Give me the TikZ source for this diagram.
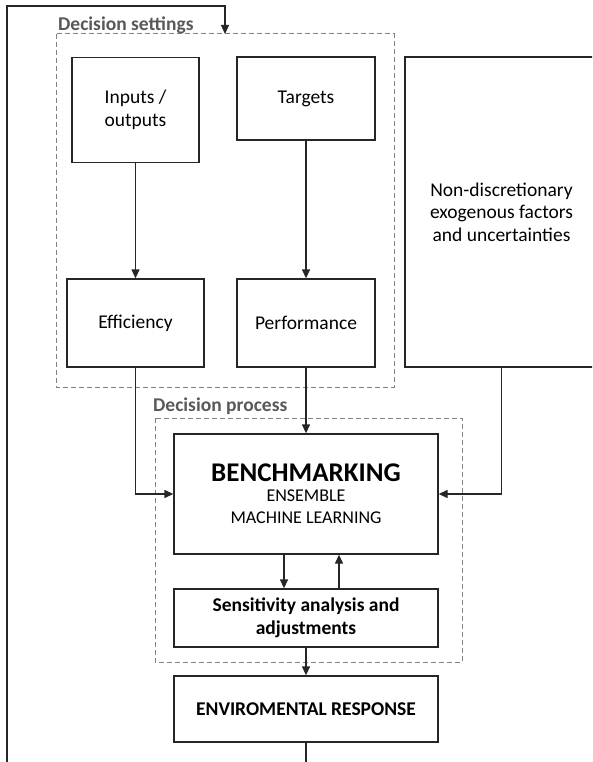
\documentclass[tikz,border=0pt]{standalone}
\usepackage{fontspec}
\setmainfont{Carlito}
\usetikzlibrary{arrows.meta}
\begin{document}
\begin{tikzpicture}[x=1pt,y=-1pt,
  box/.style={draw=black!85,line width=1.3pt,fill=white,align=center,
    inner sep=2pt,font=\fontsize{19.5}{22.5}\selectfont},
  boldbox/.style={box,font=\bfseries\fontsize{19.5}{22.5}\selectfont},
  group/.style={draw=black!50,line width=1pt,dash pattern=on 5pt off 3pt},
  grouplabel/.style={anchor=base west,inner sep=0pt,text=black!65,
    font=\bfseries\fontsize{19.5}{22}\selectfont},
  link/.style={draw=black!85,line width=1.3pt},
  arr/.style={link,-{Triangle[length=9pt,width=8pt]}}]
\clip (0,0) rectangle (592,762);

% groups
\draw[group] (56,34) rectangle (394,387);
\coordinate (dsTop) at (225,34);
\node[grouplabel] (dslab) at (58,31) {Decision settings};
\draw[group] (155,418) rectangle (462,662);
\node[grouplabel] (dplab) at (153,411) {Decision process};

% boxes
\node[box,minimum width=127pt,minimum height=105pt] (io) at (135.5,110) {Inputs /\\outputs};
\node[box,minimum width=138pt,minimum height=83pt] (tg) at (306,98.5) {Targets};
\node[box,minimum width=137pt,minimum height=88pt] (ef) at (135.5,323) {Efficiency};
\node[box,minimum width=138pt,minimum height=88pt] (pf) at (306,323) {Performance};
\node[box,minimum width=193pt,minimum height=310pt] (nd) at (501.5,212)
  {Non-discretionary\\exogenous factors\\and uncertainties};
\node[box,minimum width=264pt,minimum height=120pt] (bm) at (306,494)
  {\rule{0pt}{6pt}{\bfseries\fontsize{27}{30}\selectfont BENCHMARKING}\\[-3pt]
   {\fontsize{18}{21}\selectfont ENSEMBLE}\\
   {\fontsize{18}{21}\selectfont MACHINE LEARNING}};
\node[boldbox,minimum width=264pt,minimum height=58pt] (sa) at (306,618)
  {Sensitivity analysis and\\adjustments};
\node[boldbox,minimum width=264pt,minimum height=66pt] (er) at (306,709)
  {ENVIROMENTAL RESPONSE};

% connectors
\draw[arr] (io.south) -- (ef.north);
\draw[arr] (tg.south) -- (pf.north);
\draw[arr] (ef.south) |- (bm.west);
\draw[arr] (pf.south) -- (bm.north);
\draw[arr] (nd.south) |- (bm.east);
\draw[arr] ([xshift=-22pt]bm.south) -- ([xshift=-22pt]sa.north);
\draw[arr] ([xshift=33pt]sa.north) -- ([xshift=33pt]bm.south);
\draw[arr] (sa.south) -- (er.north);

% feedback loop
\coordinate (erOut) at (306,770);
\coordinate (fbIn) at (7,770);
\coordinate (fbTop) at (225,6);
\draw[link] (er.south) -- (erOut);
\draw[arr] (fbIn) |- (fbTop) -- (dsTop);
\end{tikzpicture}
\end{document}
